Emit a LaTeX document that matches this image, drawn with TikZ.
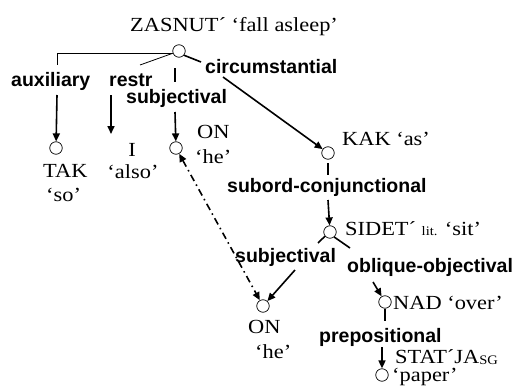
\documentclass[tikz,border=0pt]{standalone}
\usepackage{fontspec}
\setmainfont{Liberation Serif}[FakeStretch=1.12]
\newfontfamily\labfont{Liberation Sans}
\usetikzlibrary{arrows.meta}
\tikzset{
  pt/.style={circle, draw, line width=0.7pt, minimum size=12.5pt, inner sep=0pt},
  lbl/.style={font=\labfont\bfseries\fontsize{19.5}{21}\selectfont, inner sep=0pt, anchor=base west},
  wd/.style={font=\fontsize{20}{22}\selectfont, inner sep=0pt, anchor=base west},
  seg/.style={line width=1.6pt},
  thinln/.style={line width=0.8pt},
  arr/.style={line width=1.6pt, -{Triangle[length=8pt,width=7pt]}},
  dd/.style={line width=1.6pt, dash pattern=on 7pt off 4pt on 1.5pt off 4pt, {Triangle[length=8pt,width=7pt]}-{Triangle[length=8pt,width=7pt]}}
}
\begin{document}
\begin{tikzpicture}[x=1pt,y=-1pt]
\useasboundingbox (0,0) rectangle (523,388);
% circles
\node[pt] (root) at (179,51) {};
\node[pt] (tak) at (56,148) {};
\node[pt] (on1) at (176,148) {};
\node[pt] (kak) at (328,153) {};
\node[pt] (sid) at (330,232) {};
\node[pt] (on2) at (263,306) {};
\node[pt] (nad) at (385,302) {};
\node[pt] (stat) at (382,375) {};
% words
\node[wd] (tZ) at (130,31) {ZASNUT´ ‘fall asleep’};
\node[wd] (tTAK) at (43,177) {TAK};
\node[wd] (tso) at (46,201) {‘so’};
\node[wd, anchor=base] (tI) at (132,156) {I};
\node[wd, anchor=base] (talso) at (133,178) {‘also’};
\node[wd] (tON1) at (197,138) {ON};
\node[wd] (the1) at (195,163) {‘he’};
\node[wd] (tKAK) at (342,145) {KAK ‘as’};
\node[wd] (tSID) at (345,235) {SIDET´ {\fontsize{13}{14}\selectfont lit.} ‘sit’};
\node[wd] (tON2) at (248,333) {ON};
\node[wd] (the2) at (255,358) {‘he’};
\node[wd] (tNAD) at (393,309) {NAD ‘over’};
\node[wd] (tSTAT) at (395,363) {STAT´JA\raisebox{-1.5pt}{\fontsize{13}{14}\selectfont SG}};
\node[wd] (tpaper) at (392,381) {‘paper’};
% labels
\node[lbl] (laux) at (11,86) {auxiliary};
\node[lbl] (lrestr) at (109,86) {restr};
\node[lbl] (lsubj1) at (126,103) {subjectival};
\node[lbl] (lcirc) at (205,74) {circumstantial};
\node[lbl] (lsub) at (227,192) {subord-conjunctional};
\node[lbl] (lsubj2) at (235,262) {subjectival};
\node[lbl] (lobl) at (347,272) {oblique-objectival};
\node[lbl] (lprep) at (319,342) {prepositional};
% free ends
\coordinate (a1) at (57,65);
\coordinate (a2) at (57,95);
\coordinate (r1) at (140,65);
\coordinate (r2) at (111,95);
\coordinate (r3) at (111,134);
\coordinate (s1) at (175,68);
\coordinate (s1b) at (175,82);
\coordinate (s2) at (175,112);
\coordinate (c1) at (201,62);
\coordinate (c2) at (223,77);
\coordinate (k0) at (328,163);
\coordinate (k1) at (328,175);
\coordinate (k2) at (328,200);
\coordinate (j1) at (318,243);
\coordinate (j2) at (295,270);
\coordinate (o1) at (350,248);
\coordinate (o2) at (373,282);
\coordinate (p1) at (385,321);
\coordinate (p2) at (382,347);
% edges
\draw[thinln] (root.west |- 0,53) -| (a1);
\draw[arr] (a2) -- (tak);
\draw[thinln] (root.200) -- (r1);
\draw[arr] (r2) -- (r3);
\draw[seg] (s1) -- (s1b);
\draw[arr] (s2) -- (on1);
\draw[seg] (root.-40) -- (c1);
\draw[arr] (c2) -- (kak);
\draw[seg] (k0) -- (k1);
\draw[arr] (k2) -- (sid);
\draw[seg] (sid.220) -- (j1);
\draw[arr] (j2) -- (on2);
\draw[seg] (sid.-50) -- (o1);
\draw[arr] (o2) -- (nad);
\draw[seg] (nad.south) -- (p1);
\draw[arr] (p2) -- (stat);
\draw[dd] (on1) -- (on2);
\end{tikzpicture}
\end{document}
